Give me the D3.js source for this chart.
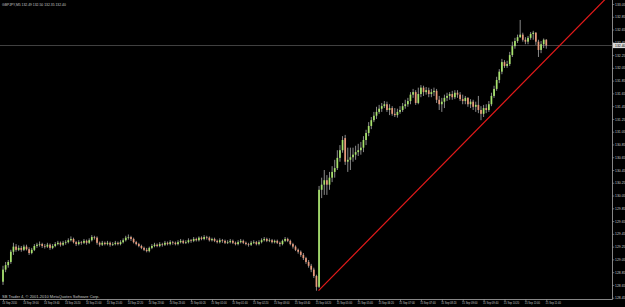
<!DOCTYPE html>
<html>
<head>
<meta charset="utf-8">
<script src="https://cdn.jsdelivr.net/npm/d3@7"></script>
<style>
  html, body { margin: 0; padding: 0; background: #000; overflow: hidden; }
  svg { display: block; }
  text { font-family: "Liberation Sans", Arial, sans-serif; }
</style>
</head>
<body>
<svg id="chart" width="625" height="307"></svg>
<script>
/* GBPJPY M5 candles, 14 Sep 2010 18:20 -> 15 Sep 2010 11:40 */
const symbolName = 'GBPJPY,M5';
const copyrightText = 'SB Trader 4, \u00A9 2001-2010 MetaQuotes Software Corp.';

const openP = [
  128.70,128.89,128.96,129.01,129.17,129.25,129.20,129.23,129.20,129.25,
  129.21,129.15,129.20,129.26,129.28,129.29,129.26,129.25,129.28,129.23,
  129.26,129.29,129.31,129.28,129.31,129.32,129.35,129.37,129.32,129.29,
  129.32,129.31,129.34,129.31,129.35,129.40,129.39,129.31,129.28,129.31,
  129.29,129.31,129.28,129.29,129.31,129.29,129.32,129.35,129.39,129.40,
  129.37,129.32,129.29,129.26,129.23,129.20,129.18,129.23,129.26,129.28,
  129.26,129.29,129.28,129.31,129.29,129.32,129.31,129.29,129.32,129.34,
  129.31,129.32,129.35,129.34,129.37,129.35,129.39,129.37,129.40,129.39,
  129.35,129.37,129.34,129.32,129.35,129.34,129.31,129.32,129.34,129.31,
  129.29,129.32,129.34,129.31,129.29,129.28,129.31,129.32,129.29,129.32,
  129.35,129.37,129.34,129.35,129.32,129.34,129.31,129.29,129.34,129.37,
  129.34,129.29,129.25,129.20,129.17,129.12,129.07,129.01,128.95,128.89,
  128.79,128.62,130.14,130.22,130.29,130.22,130.33,130.42,130.48,130.64,
  130.76,130.95,130.58,130.61,130.65,130.69,130.73,130.76,130.80,130.92,
  131.03,131.14,131.23,131.30,131.36,131.41,131.45,131.48,131.39,131.42,
  131.33,131.31,131.36,131.39,131.45,131.48,131.53,131.63,131.67,131.50,
  131.64,131.74,131.67,131.70,131.64,131.67,131.69,131.55,131.48,131.52,
  131.58,131.61,131.64,131.59,131.66,131.63,131.56,131.53,131.58,131.48,
  131.52,131.44,131.47,131.39,131.33,131.42,131.39,131.48,131.61,131.72,
  131.86,131.99,132.14,132.08,132.11,132.25,132.39,132.47,132.53,132.57,
  132.49,132.46,132.52,132.58,132.60,132.46,132.33,132.42,132.49
];
const highP = [
  128.95,129.01,129.04,129.20,129.31,129.29,129.27,129.26,129.28,129.28,
  129.24,129.23,129.29,129.31,129.33,129.31,129.29,129.31,129.30,129.29,
  129.32,129.34,129.33,129.34,129.35,129.38,129.41,129.39,129.34,129.35,
  129.34,129.37,129.36,129.38,129.43,129.42,129.41,129.33,129.34,129.33,
  129.34,129.33,129.32,129.34,129.33,129.35,129.38,129.42,129.44,129.42,
  129.39,129.34,129.31,129.28,129.25,129.23,129.25,129.29,129.31,129.30,
  129.32,129.31,129.34,129.33,129.35,129.34,129.33,129.35,129.37,129.36,
  129.35,129.38,129.37,129.40,129.39,129.41,129.41,129.43,129.42,129.41,
  129.39,129.39,129.36,129.38,129.37,129.36,129.35,129.37,129.36,129.33,
  129.35,129.37,129.36,129.33,129.31,129.34,129.35,129.34,129.35,129.38,
  129.40,129.39,129.38,129.37,129.36,129.36,129.33,129.36,129.40,129.39,
  129.36,129.31,129.27,129.22,129.19,129.15,129.09,129.04,128.98,128.92,
  128.81,130.20,130.33,130.45,130.37,130.42,130.51,130.61,130.76,130.84,
  130.98,131.00,130.80,130.80,130.80,130.83,130.86,130.89,130.98,131.08,
  131.20,131.28,131.36,131.44,131.47,131.50,131.53,131.52,131.48,131.45,
  131.42,131.41,131.45,131.50,131.55,131.58,131.67,131.72,131.70,131.74,
  131.78,131.77,131.75,131.74,131.72,131.74,131.72,131.61,131.58,131.63,
  131.66,131.67,131.69,131.70,131.70,131.67,131.63,131.61,131.59,131.56,
  131.55,131.52,131.61,131.45,131.47,131.48,131.53,131.66,131.77,131.91,
  132.03,132.19,132.17,132.16,132.30,132.46,132.52,132.57,132.80,132.60,
  132.53,132.55,132.61,132.63,132.61,132.49,132.47,132.51,132.50
];
const lowP = [
  128.65,128.85,128.92,128.98,129.12,129.17,129.18,129.17,129.18,129.19,
  129.12,129.13,129.18,129.23,129.25,129.23,129.22,129.23,129.20,129.21,
  129.24,129.27,129.25,129.26,129.28,129.30,129.33,129.30,129.26,129.27,
  129.28,129.29,129.28,129.29,129.33,129.36,129.28,129.25,129.26,129.27,
  129.27,129.25,129.26,129.27,129.27,129.27,129.30,129.33,129.36,129.34,
  129.30,129.27,129.24,129.21,129.18,129.16,129.16,129.21,129.24,129.24,
  129.24,129.25,129.26,129.27,129.27,129.28,129.27,129.27,129.30,129.29,
  129.29,129.30,129.31,129.32,129.33,129.33,129.35,129.35,129.36,129.33,
  129.33,129.32,129.30,129.30,129.31,129.29,129.29,129.30,129.29,129.27,
  129.27,129.30,129.29,129.27,129.25,129.26,129.29,129.27,129.27,129.30,
  129.33,129.32,129.32,129.30,129.30,129.29,129.25,129.27,129.32,129.32,
  129.27,129.22,129.18,129.14,129.09,129.04,128.98,128.92,128.85,128.76,
  128.56,128.60,130.01,130.06,130.06,130.14,130.26,130.33,130.45,130.58,
  130.72,130.53,130.42,130.45,130.58,130.61,130.67,130.69,130.73,130.84,
  130.98,131.09,131.20,131.25,131.33,131.36,131.42,131.36,131.31,131.30,
  131.28,131.27,131.33,131.36,131.41,131.44,131.48,131.58,131.47,131.48,
  131.59,131.61,131.63,131.59,131.59,131.61,131.50,131.39,131.36,131.42,
  131.53,131.55,131.55,131.56,131.58,131.53,131.48,131.48,131.44,131.42,
  131.39,131.36,131.34,131.23,131.28,131.34,131.36,131.45,131.58,131.69,
  131.81,131.95,132.05,132.05,132.08,132.22,132.35,132.44,132.52,132.46,
  132.42,132.42,132.49,132.49,132.41,132.22,132.28,132.36,132.35
];
const closeP = [
  128.89,128.96,129.01,129.17,129.25,129.20,129.23,129.20,129.25,129.21,
  129.15,129.20,129.26,129.28,129.29,129.26,129.25,129.28,129.23,129.26,
  129.29,129.31,129.28,129.31,129.32,129.35,129.37,129.32,129.29,129.32,
  129.31,129.34,129.31,129.35,129.40,129.39,129.31,129.28,129.31,129.29,
  129.31,129.28,129.29,129.31,129.29,129.32,129.35,129.39,129.40,129.37,
  129.32,129.29,129.26,129.23,129.20,129.18,129.23,129.26,129.28,129.26,
  129.29,129.28,129.31,129.29,129.32,129.31,129.29,129.32,129.34,129.31,
  129.32,129.35,129.34,129.37,129.35,129.39,129.37,129.40,129.39,129.35,
  129.37,129.34,129.32,129.35,129.34,129.31,129.32,129.34,129.31,129.29,
  129.32,129.34,129.31,129.29,129.28,129.31,129.32,129.29,129.32,129.35,
  129.37,129.34,129.35,129.32,129.34,129.31,129.29,129.34,129.37,129.34,
  129.29,129.25,129.20,129.17,129.12,129.07,129.01,128.95,128.89,128.79,
  128.62,130.14,130.22,130.29,130.22,130.33,130.42,130.48,130.64,130.76,
  130.92,130.58,130.61,130.65,130.69,130.73,130.76,130.80,130.92,131.03,
  131.14,131.23,131.30,131.36,131.41,131.45,131.48,131.39,131.42,131.33,
  131.31,131.36,131.39,131.45,131.48,131.53,131.63,131.67,131.50,131.64,
  131.74,131.67,131.70,131.64,131.67,131.69,131.55,131.48,131.52,131.58,
  131.61,131.64,131.59,131.66,131.63,131.56,131.53,131.58,131.48,131.52,
  131.44,131.47,131.39,131.33,131.42,131.39,131.48,131.61,131.72,131.86,
  131.99,132.14,132.08,132.11,132.25,132.39,132.47,132.53,132.57,132.49,
  132.46,132.52,132.58,132.60,132.46,132.33,132.42,132.49,132.40
];

const timeLabels = [
  '14 Sep 2010','14 Sep 19:00','14 Sep 19:40','14 Sep 20:20','14 Sep 21:00',
  '14 Sep 21:40','14 Sep 22:20','14 Sep 23:00','14 Sep 23:40','15 Sep 00:20',
  '15 Sep 01:00','15 Sep 01:40','15 Sep 02:20','15 Sep 03:00','15 Sep 03:40',
  '15 Sep 04:20','15 Sep 05:00','15 Sep 05:40','15 Sep 06:20','15 Sep 07:00',
  '15 Sep 07:40','15 Sep 08:20','15 Sep 09:00','15 Sep 09:40','15 Sep 10:20',
  '15 Sep 11:00','15 Sep 11:40'
];
const priceLabels = [
  '133.05','132.85','132.65','132.45','132.25','132.05','131.85','131.65',
  '131.45','131.25','131.05','130.85','130.65','130.45','130.25','130.05',
  '129.85','129.65','129.45','129.25','129.05','128.85','128.65','128.45'
];

// trend line anchors (bar index, price) - drawn as a ray to the right
const trendAnchors = [{ bar: 120.8, price: 128.56 }, { bar: 185, price: 131.23 }];

const svg = d3.select('#chart');
const width = +svg.attr('width');
const height = +svg.attr('height');

const plotRight = 612.5;
const plotBottom = 299.5;
const barStep = 2.612;
const lastSlot = 233;   // chart shift leaves empty room after last bar

const xScale = d3.scaleLinear()
  .domain([0, lastSlot])
  .range([3, 3 + lastSlot * barStep]);

const yScale = d3.scaleLinear()
  .domain([+priceLabels[priceLabels.length - 1], +priceLabels[0]])
  .range([297.7, 4]);

const bullColour = '#a8e46c';
const bearColour = '#e99a7c';
const wickColour = '#c4c4c4';
const textColour = '#c8c8c8';

svg.append('rect').attr('width', width).attr('height', height).attr('fill', '#000');

svg.append('clipPath').attr('id', 'plotClip')
  .append('rect').attr('x', 0).attr('y', 0)
  .attr('width', plotRight).attr('height', plotBottom);

const g = svg.append('g').attr('clip-path', 'url(#plotClip)');

// current price line
const lastClose = closeP[closeP.length - 1];
g.append('line')
  .attr('x1', 0).attr('x2', plotRight)
  .attr('y1', yScale(lastClose)).attr('y2', yScale(lastClose))
  .attr('stroke', '#474747').attr('stroke-width', 0.9);

const bars = openP.map((o, i) => ({ i, o, h: highP[i], l: lowP[i], c: closeP[i] }));

g.selectAll('.wick').data(bars).join('line')
  .attr('class', 'wick')
  .attr('x1', d => xScale(d.i)).attr('x2', d => xScale(d.i))
  .attr('y1', d => yScale(d.h)).attr('y2', d => yScale(d.l))
  .attr('stroke', wickColour).attr('stroke-width', 0.7);

g.selectAll('.body').data(bars).join('rect')
  .attr('class', 'body')
  .attr('x', d => xScale(d.i) - 0.85)
  .attr('width', 1.7)
  .attr('y', d => yScale(Math.max(d.o, d.c)))
  .attr('height', d => Math.max(0.7, Math.abs(yScale(d.o) - yScale(d.c))))
  .attr('fill', d => d.c >= d.o ? bullColour : bearColour);

// trend line
const tSlope = (trendAnchors[1].price - trendAnchors[0].price) / (trendAnchors[1].bar - trendAnchors[0].bar);
const tEnd = trendAnchors[0].price + (lastSlot - trendAnchors[0].bar) * tSlope;
g.append('line')
  .attr('x1', xScale(trendAnchors[0].bar)).attr('y1', yScale(trendAnchors[0].price))
  .attr('x2', xScale(lastSlot)).attr('y2', yScale(tEnd))
  .attr('stroke', '#e41a1a').attr('stroke-width', 1.2);

// frame separators
svg.append('line')
  .attr('x1', plotRight).attr('x2', plotRight).attr('y1', 0).attr('y2', plotBottom)
  .attr('stroke', '#a8a8a8').attr('stroke-width', 0.8);
svg.append('line')
  .attr('x1', 0).attr('x2', plotRight).attr('y1', plotBottom).attr('y2', plotBottom)
  .attr('stroke', '#a8a8a8').attr('stroke-width', 0.8);

// price axis
const yAxis = d3.axisRight(yScale)
  .tickValues(priceLabels.map(Number))
  .tickFormat(d3.format('.2f'))
  .tickSize(1.8)
  .tickPadding(0.8);

const yAxisG = svg.append('g')
  .attr('transform', `translate(${plotRight},0)`)
  .call(yAxis);
yAxisG.select('.domain').remove();
yAxisG.selectAll('line').attr('stroke', '#a8a8a8').attr('stroke-width', 0.6);
yAxisG.selectAll('text')
  .attr('fill', textColour).attr('font-size', 3.4);

// current price tag
const tagY = yScale(lastClose);
svg.append('rect')
  .attr('x', plotRight + 0.5).attr('y', tagY - 2.6)
  .attr('width', width - plotRight).attr('height', 5.2)
  .attr('fill', '#d8d8d8');
svg.append('text')
  .attr('x', plotRight + 2.6).attr('y', tagY)
  .attr('dy', '0.34em')
  .attr('font-size', 3.4).attr('fill', '#000')
  .text(d3.format('.2f')(lastClose));

// time axis
const xAxis = d3.axisBottom(xScale)
  .tickValues(d3.range(0, bars.length, 8))
  .tickFormat((d, k) => timeLabels[k])
  .tickSize(2)
  .tickPadding(0.6);

const xAxisG = svg.append('g')
  .attr('transform', `translate(0,${plotBottom})`)
  .call(xAxis);
xAxisG.select('.domain').remove();
xAxisG.selectAll('line').attr('stroke', '#a8a8a8').attr('stroke-width', 0.6);
xAxisG.selectAll('text')
  .attr('fill', textColour).attr('font-size', 2.6)
  .attr('text-anchor', 'start').attr('dx', -1.2);

// header with last bar OHLC
const last = bars[bars.length - 1];
svg.append('text')
  .attr('x', 2).attr('y', 5.6)
  .attr('font-size', 3.4).attr('fill', textColour)
  .text(`${symbolName}  ${[last.o, last.h, last.l, last.c].map(d3.format('.2f')).join(' ')}`);

svg.append('text')
  .attr('x', 2).attr('y', 298.2)
  .attr('font-size', 4).attr('fill', textColour)
  .text(copyrightText);
</script>
</body>
</html>
